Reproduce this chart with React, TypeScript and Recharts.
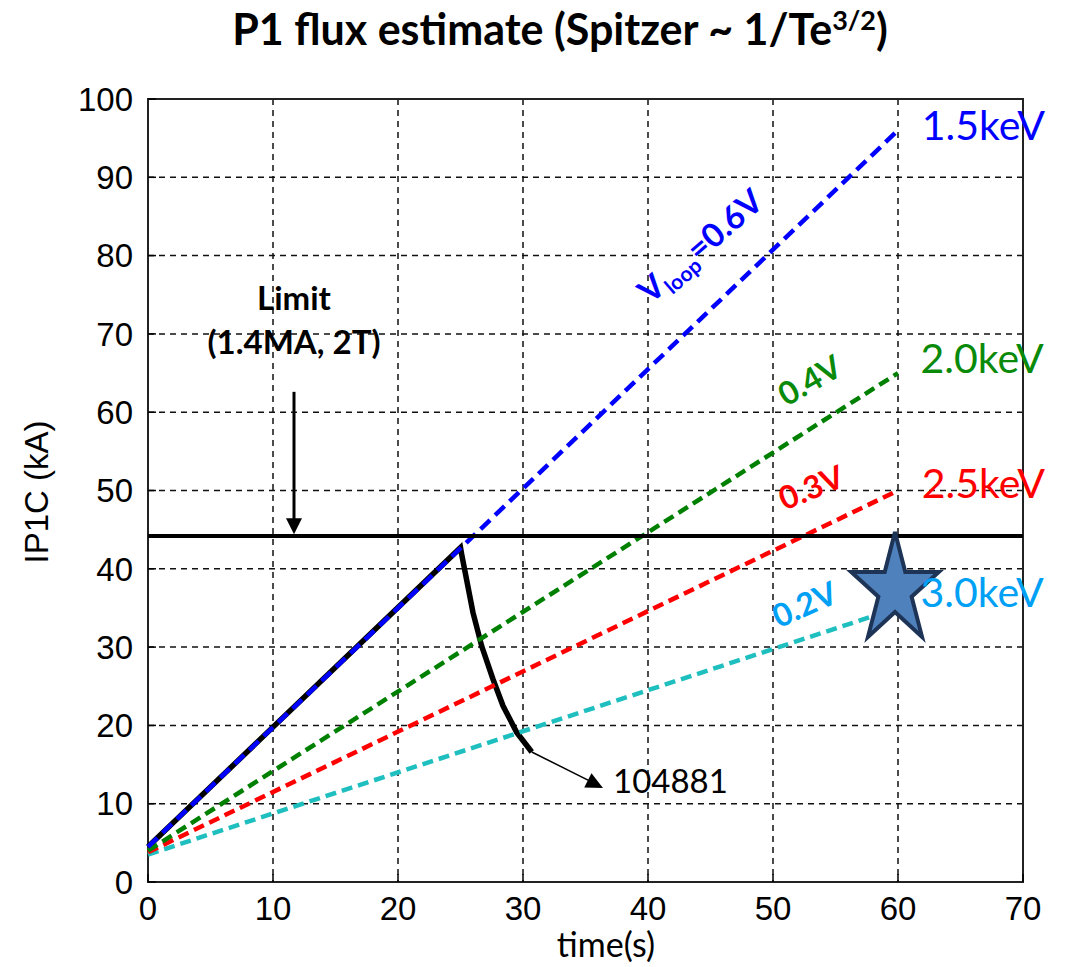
import {
  ComposedChart,
  Line,
  XAxis,
  YAxis,
  CartesianGrid,
  ReferenceLine,
  ReferenceDot,
  ReferenceArea,
} from "recharts";

// time axis for the Spitzer estimates (s)
const estTime = [0, 60];
// IP1C estimates (kA) for each electron temperature
const ip15keV = [4.5, 96];
const ip20keV = [4.0, 65];
const ip25keV = [3.8, 50];
const ip30keV = [3.5, 35];

// measured shot 104881
const shotTime = [0, 25, 25.1, 26.0, 26.7, 27.6, 28.4, 29.5, 30.7];
const shotIp = [4.5, 42.7, 41.8, 34.4, 30.1, 25.9, 22.5, 19.1, 16.6];

const xTicks = [0, 10, 20, 30, 40, 50, 60, 70];
const yTicks = [0, 10, 20, 30, 40, 50, 60, 70, 80, 90, 100];

const limitIp = 44.2;

const pts = (xs: number[], ys: number[]) => xs.map((x, i) => ({ x, y: ys[i] }));

const SANS = "'Liberation Sans', Arial, sans-serif";
const CAL = "Lato, 'Open Sans', sans-serif";

const label =
  (text: string, color: string, size: number, opts: { bold?: boolean; angle?: number; anchor?: string } = {}) =>
  (p: any) => (
    <text
      x={p.cx}
      y={p.cy}
      fill={color}
      fontSize={size}
      fontFamily={CAL}
      fontWeight={opts.bold ? 700 : 400}
      textAnchor={opts.anchor ?? "start"}
      transform={opts.angle ? `rotate(${opts.angle} ${p.cx} ${p.cy})` : undefined}
    >
      {text}
    </text>
  );

const vloopLabel = (p: any) => (
  <text
    x={p.cx}
    y={p.cy}
    fill="#0000ff"
    fontSize={33}
    fontFamily={CAL}
    fontWeight={700}
    textAnchor="middle"
    transform={`rotate(-41 ${p.cx} ${p.cy})`}
  >
    <tspan>V</tspan>
    <tspan fontSize={21} dy={7}>loop</tspan>
    <tspan dy={-7}>=0.6V</tspan>
  </text>
);

const star = (p: any) => {
  const rx = 46;
  const ry = 58;
  const pts: string[] = [];
  for (let i = 0; i < 10; i++) {
    const a = -Math.PI / 2 + (i * Math.PI) / 5;
    const k = i % 2 === 0 ? 1 : 0.38;
    pts.push(`${p.cx + rx * k * Math.cos(a)},${p.cy + ry * k * Math.sin(a)}`);
  }
  return <polygon points={pts.join(" ")} fill="#4f81bd" stroke="#1e3456" strokeWidth={4} strokeLinejoin="miter" />;
};

const downHead = (p: any) => (
  <polygon points={`${p.cx - 8},${p.cy - 16} ${p.cx + 8},${p.cy - 16} ${p.cx},${p.cy}`} fill="#000" />
);

const slantHead = (p: any) => (
  <polygon
    points={`${p.cx},${p.cy} ${p.cx - 17},${p.cy - 8} ${p.cx - 17},${p.cy + 8}`}
    fill="#000"
    transform={`rotate(27 ${p.cx} ${p.cy})`}
  />
);

export default function App() {
  return (
    <div style={{ position: "absolute", left: 0, top: 0, width: 1068, height: 967, background: "#fff" }}>
      <div
        style={{
          position: "absolute",
          left: 0,
          width: 1120,
          top: 3,
          textAlign: "center",
          fontFamily: CAL,
          fontWeight: 700,
          fontSize: 43,
          color: "#000",
        }}
      >
        P1 flux estimate (Spitzer ~ 1/Te<sup style={{ fontSize: 27 }}>3/2</sup>)
      </div>
      <div
        style={{
          position: "absolute",
          left: 0,
          width: 1212,
          top: 927,
          lineHeight: "34px",
          textAlign: "center",
          fontFamily: CAL,
          fontSize: 34,
          color: "#000",
        }}
      >
        time(s)
      </div>
      <div
        style={{
          position: "absolute",
          left: 37,
          top: 492,
          transform: "translate(-50%, -50%) rotate(-90deg)",
          whiteSpace: "nowrap",
          fontFamily: SANS,
          fontSize: 33,
          color: "#000",
        }}
      >
        IP1C (kA)
      </div>
      <ComposedChart width={1068} height={967} margin={{ top: 99, right: 45, bottom: 35, left: 68 }}>
        <CartesianGrid stroke="#111" strokeWidth={1.5} strokeDasharray="6 5" />
        <XAxis
          type="number"
          dataKey="x"
          domain={[0, 70]}
          ticks={xTicks}
          height={50}
          axisLine={false}
          tickSize={-8}
          tickMargin={23}
          tickLine={{ stroke: "#000", strokeWidth: 1.5 }}
          tick={{ fill: "#000", fontSize: 33, fontFamily: SANS }}
        />
        <YAxis
          type="number"
          dataKey="y"
          domain={[0, 100]}
          ticks={yTicks}
          width={80}
          axisLine={false}
          tickSize={-8}
          tickMargin={23}
          tickLine={{ stroke: "#000", strokeWidth: 1.5 }}
          tick={{ fill: "#000", fontSize: 33, fontFamily: SANS }}
        />
        <ReferenceArea x1={0} x2={70} y1={0} y2={100} fill="none" stroke="#222" strokeWidth={2} ifOverflow="visible" />

        <Line data={pts(shotTime, shotIp)} dataKey="y" stroke="#000" strokeWidth={5.5} dot={false} isAnimationActive={false} />
        <Line data={pts(estTime, ip30keV)} dataKey="y" stroke="#1fbfbf" strokeWidth={4.5} strokeDasharray="11 6" dot={false} isAnimationActive={false} />
        <Line data={pts(estTime, ip25keV)} dataKey="y" stroke="#ff0000" strokeWidth={4.5} strokeDasharray="11 6" dot={false} isAnimationActive={false} />
        <Line data={pts(estTime, ip20keV)} dataKey="y" stroke="#008000" strokeWidth={4.5} strokeDasharray="11 6" dot={false} isAnimationActive={false} />
        <Line data={pts(estTime, ip15keV)} dataKey="y" stroke="#0000ff" strokeWidth={4.5} strokeDasharray="13 7" dot={false} isAnimationActive={false} />

        <ReferenceLine y={limitIp} stroke="#000" strokeWidth={4} />
        <ReferenceLine segment={[{ x: 11.68, y: 62.6 }, { x: 11.68, y: 46 }]} stroke="#000" strokeWidth={3} />
        <ReferenceDot x={11.68} y={44.4} shape={downHead} ifOverflow="visible" />
        <ReferenceLine segment={[{ x: 30.7, y: 16.6 }, { x: 35.6, y: 12.7 }]} stroke="#000" strokeWidth={1.5} />
        <ReferenceDot x={36.4} y={12.0} shape={slantHead} ifOverflow="visible" />

        <ReferenceDot x={59.76} y={37.3} shape={star} ifOverflow="visible" />

        <ReferenceDot x={11.68} y={73.0} shape={label("Limit", "#000", 33, { bold: true, anchor: "middle" })} ifOverflow="visible" />
        <ReferenceDot x={11.68} y={67.4} shape={label("(1.4MA, 2T)", "#000", 33, { bold: true, anchor: "middle" })} ifOverflow="visible" />
        <ReferenceDot x={37.2} y={11.4} shape={label("104881", "#000", 33)} ifOverflow="visible" />

        <ReferenceDot x={61.9} y={94.8} shape={label("1.5keV", "#0000ff", 41)} ifOverflow="visible" />
        <ReferenceDot x={61.8} y={65.0} shape={label("2.0keV", "#0a8a0a", 41)} ifOverflow="visible" />
        <ReferenceDot x={61.9} y={49.0} shape={label("2.5keV", "#ff0000", 41)} ifOverflow="visible" />
        <ReferenceDot x={61.8} y={35.1} shape={label("3.0keV", "#00a0f5", 41)} ifOverflow="visible" />

        <ReferenceDot x={44.8} y={80.1} shape={vloopLabel} ifOverflow="visible" />
        <ReferenceDot x={53.4} y={62.8} shape={label("0.4V", "#0a8a0a", 32, { bold: true, angle: -30, anchor: "middle" })} ifOverflow="visible" />
        <ReferenceDot x={53.4} y={49.0} shape={label("0.3V", "#ff0000", 32, { bold: true, angle: -22, anchor: "middle" })} ifOverflow="visible" />
        <ReferenceDot x={52.9} y={34.1} shape={label("0.2V", "#00a0f5", 32, { bold: true, angle: -24, anchor: "middle" })} ifOverflow="visible" />
      </ComposedChart>
    </div>
  );
}
